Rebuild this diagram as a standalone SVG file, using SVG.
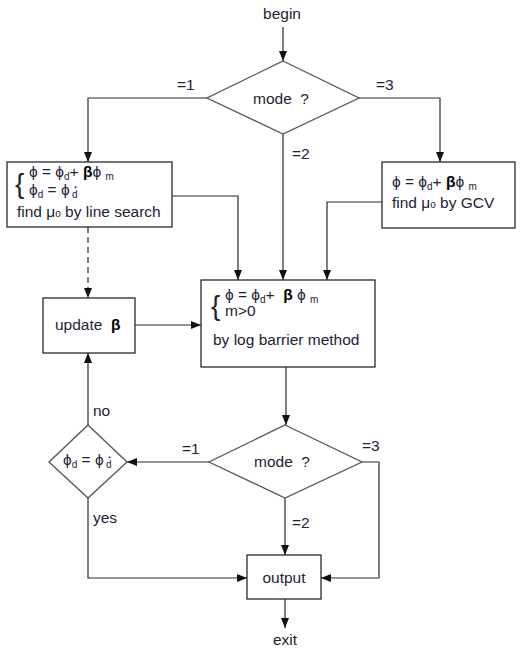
<svg xmlns="http://www.w3.org/2000/svg" width="524" height="654" viewBox="0 0 524 654">
  <style>
    text { font-family: "Liberation Sans", Arial, "DejaVu Sans", sans-serif; font-size: 15.5px; fill: #1e2235; white-space: pre; }
    .c { text-anchor: middle; }
    .sub { font-size: 10px; }
    .sup { font-size: 8px; }
    .b { font-weight: bold; fill: #000; }
    .brace { font-size: 28px; fill: #1e2235; }
    .box { fill: #fff; stroke: #2a2a2a; stroke-width: 1.3; }
    .dia { fill: #fff; stroke: #555; stroke-width: 1.3; }
    .arr { fill: none; stroke: #2a2a2a; stroke-width: 1.2; marker-end: url(#ah); }
    .dash { stroke-dasharray: 6 4; }
  </style>
  <defs>
    <marker id="ah" viewBox="0 0 10 8" refX="10" refY="4" markerWidth="10" markerHeight="8" markerUnits="userSpaceOnUse" orient="auto">
      <path d="M0,0 L10,4 L0,8 Z" fill="#111"/>
    </marker>
  </defs>

  <!-- connectors and their branch labels -->
  <g id="connectors">
    <line class="arr" x1="283" y1="27" x2="283" y2="61"/>
    <polyline class="arr" points="207,98 88,98 88,162"/>
    <polyline class="arr" points="359,98 440,98 440,162"/>
    <line class="arr" x1="283" y1="134" x2="283" y2="280"/>
    <polyline class="arr" points="172,196 238,196 238,280"/>
    <polyline class="arr" points="382,202 327,202 327,280"/>
    <line class="arr dash" x1="88" y1="227" x2="88" y2="298"/>
    <line class="arr" x1="135" y1="325" x2="201" y2="325"/>
    <line class="arr" x1="286" y1="367" x2="286" y2="425"/>
    <line class="arr" x1="209" y1="462" x2="127" y2="462"/>
    <line class="arr" x1="88" y1="425" x2="88" y2="353"/>
    <polyline class="arr" points="88,498 88,578 247,578"/>
    <polyline class="arr" points="362,462 379,462 379,578 321,578"/>
    <line class="arr" x1="285" y1="498" x2="285" y2="555"/>
    <line class="arr" x1="285" y1="599" x2="285" y2="628"/>
    <text x="177" y="90">=1</text>
    <text x="376" y="90">=3</text>
    <text x="292" y="159">=2</text>
    <text x="93" y="416">no</text>
    <text x="93" y="523">yes</text>
    <text x="182" y="454">=1</text>
    <text x="362" y="451">=3</text>
    <text x="292" y="528">=2</text>
  </g>

  <g id="begin">
    <text class="c" x="282" y="19">begin</text>
  </g>

  <g id="mode1">
    <polygon class="dia" points="283,61 359,98 283,134 207,98"/>
    <text class="c" x="281" y="104">mode  ?</text>
  </g>

  <g id="lineSearch">
    <rect class="box" x="7" y="162" width="165" height="65"/>
    <text class="brace" x="15" y="193">{</text>
    <text x="29" y="177">ϕ = ϕ<tspan class="sub" dy="3">d</tspan><tspan dy="-3">+ </tspan><tspan class="b">β</tspan>ϕ <tspan class="sub" dy="3">m</tspan></text>
    <text x="29" y="195">ϕ<tspan class="sub" dy="3">d</tspan><tspan dy="-3"> = ϕ </tspan><tspan class="sup" dy="-4">*</tspan><tspan class="sub" dx="-5" dy="7">d</tspan></text>
    <text x="17" y="217">find μ<tspan class="sub">o</tspan> by line search</text>
  </g>

  <g id="gcv">
    <rect class="box" x="382" y="162" width="133" height="66"/>
    <text x="392" y="187">ϕ = ϕ<tspan class="sub" dy="3">d</tspan><tspan dy="-3">+ </tspan><tspan class="b">β</tspan>ϕ <tspan class="sub" dy="3">m</tspan></text>
    <text x="392" y="208">find μ<tspan class="sub">o</tspan> by GCV</text>
  </g>

  <g id="logBarrier">
    <rect class="box" x="201" y="280" width="174" height="87"/>
    <text class="brace" x="211" y="315">{</text>
    <text x="225" y="300">ϕ = ϕ<tspan class="sub" dy="3">d</tspan><tspan dy="-3">+  </tspan><tspan class="b">β</tspan> ϕ <tspan class="sub" dy="3">m</tspan></text>
    <text x="225" y="316">m&gt;0</text>
    <text x="213" y="345">by log barrier method</text>
  </g>

  <g id="updateBeta">
    <rect class="box" x="43" y="298" width="92" height="55"/>
    <text x="55" y="330">update  <tspan class="b">β</tspan></text>
  </g>

  <g id="converged">
    <polygon class="dia" points="88,425 127,462 88,498 49,462"/>
    <text x="63" y="465">ϕ<tspan class="sub" dy="3">d</tspan><tspan dy="-3"> = ϕ </tspan><tspan class="sup" dy="-4">*</tspan><tspan class="sub" dx="-5" dy="7">d</tspan></text>
  </g>

  <g id="mode2">
    <polygon class="dia" points="285,425 362,462 285,498 209,462"/>
    <text class="c" x="282" y="467">mode  ?</text>
  </g>

  <g id="output">
    <rect class="box" x="247" y="555" width="74" height="44"/>
    <text class="c" x="284" y="583">output</text>
  </g>

  <g id="exit">
    <text class="c" x="285" y="645">exit</text>
  </g>
</svg>
